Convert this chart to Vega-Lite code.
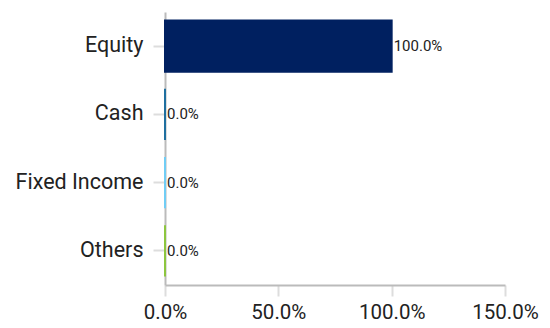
{
  "$schema": "https://vega.github.io/schema/vega-lite/v6.json",
  "autosize": {"type": "none"},
  "width": 340,
  "height": 273,
  "padding": {"left": 165, "top": 12, "right": 45, "bottom": 43},
  "background": "white",
  "config": {"view": {"stroke": null}, "font": "Roboto"},
  "data": {"values": [
    {"category": "Equity", "value": 1.0},
    {"category": "Cash", "value": 0.0},
    {"category": "Fixed Income", "value": 0.0},
    {"category": "Others", "value": 0.0}
  ]},
  "encoding": {
    "y": {"field": "category", "type": "nominal", "sort": ["Equity", "Cash", "Fixed Income", "Others"],
      "scale": {"paddingInner": 0.25, "paddingOuter": 0.125},
      "axis": {"title": null, "labelFont": "Roboto", "labelFontSize": 21.5, "labelColor": "#222", "labelPadding": 10,
        "tickSize": 12, "tickColor": "#dddddd", "tickWidth": 2, "domainColor": "#bbbbbb", "domainWidth": 2}},
    "x": {"field": "value", "type": "quantitative",
      "scale": {"domain": [0, 1.5], "nice": false},
      "axis": {"title": null, "format": ".1%", "values": [0, 0.5, 1, 1.5], "grid": false, "labelFlush": false,
        "labelFont": "Roboto", "labelFontSize": 20.5, "labelColor": "#222", "labelPadding": 6,
        "tickSize": 11, "tickColor": "#dddddd", "tickWidth": 2, "domainColor": "#bbbbbb", "domainWidth": 2}}
  },
  "layer": [
    {
      "mark": {"type": "bar", "strokeWidth": 2},
      "encoding": {
        "color": {"field": "category", "type": "nominal", "legend": null,
          "scale": {"domain": ["Equity", "Cash", "Fixed Income", "Others"], "range": ["#002060", "#1f6f9f", "#70cdf5", "#8dc63f"]}},
        "stroke": {"field": "category", "type": "nominal", "legend": null,
          "scale": {"domain": ["Equity", "Cash", "Fixed Income", "Others"], "range": ["#002060", "#1f6f9f", "#70cdf5", "#8dc63f"]}}
      }
    },
    {
      "mark": {"type": "text", "align": "left", "baseline": "middle", "dx": 2, "fontSize": 15, "font": "Roboto", "color": "#222"},
      "encoding": {"text": {"field": "value", "type": "quantitative", "format": ".1%"}}
    }
  ]
}
